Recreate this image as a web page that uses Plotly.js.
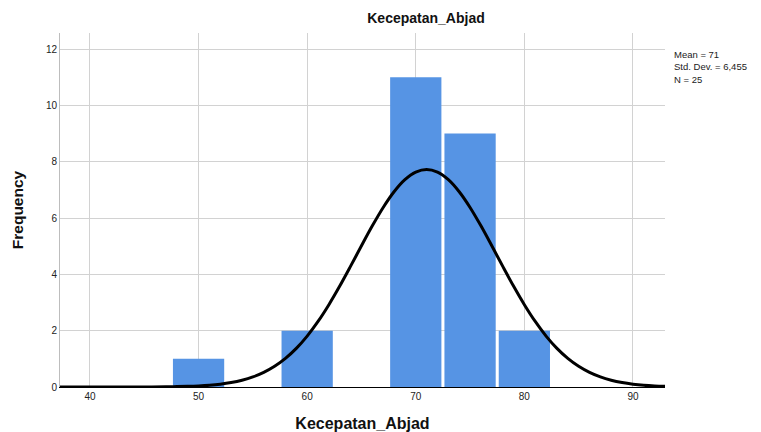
<!DOCTYPE html>
<html><head><meta charset="utf-8">
<script src="https://cdn.plot.ly/plotly-3.0.1.min.js"></script>
<style>html,body{margin:0;padding:0;background:#fff}#c{width:761px;height:432px}</style>
</head><body><div id="c"></div>
<script>
// Histogram bins (centers) and frequencies
const binCenters = [50, 60, 70, 75, 80];
const frequencies = [1, 2, 11, 9, 2];
// Normal curve points (mean 71, sd 6.455, N 25)
const curveX = [37, 40, 43, 45, 47, 48, 49, 50, 51, 52, 53, 54, 55, 56, 57, 58, 59, 60, 61, 62, 63, 64, 65, 66, 67, 68, 69, 70, 71, 72, 73, 74, 75, 76, 77, 78, 79, 80, 81, 82, 83, 84, 85, 86, 87, 88, 89, 90, 91, 92, 93];
const curveY = [0.0000, 0.0001, 0.0006, 0.0023, 0.0077, 0.0135, 0.0232, 0.0389, 0.0636, 0.1015, 0.158, 0.241, 0.358, 0.519, 0.735, 1.017, 1.372, 1.808, 2.327, 2.923, 3.584, 4.291, 5.015, 5.723, 6.376, 6.934, 7.363, 7.632, 7.725, 7.632, 7.363, 6.934, 6.376, 5.723, 5.015, 4.291, 3.584, 2.923, 2.327, 1.808, 1.372, 1.017, 0.735, 0.519, 0.358, 0.241, 0.158, 0.1015, 0.0636, 0.0389, 0.0232];
const xTicks = [40, 50, 60, 70, 80, 90];
const yTicks = [0, 2, 4, 6, 8, 10, 12];
const stats = ["Mean = 71", "Std. Dev. = 6,455", "N = 25"];

const font = "Liberation Sans, Arial, sans-serif";
const data = [
  {type: "bar", x: binCenters, y: frequencies, width: 4.72,
   marker: {color: "#5694e4", line: {width: 0}}, hoverinfo: "skip"},
  {type: "scatter", mode: "lines", x: curveX, y: curveY,
   line: {color: "#000", width: 3, shape: "spline"}, hoverinfo: "skip"}
];
const layout = {
  width: 761, height: 432,
  margin: {l: 60, r: 96, t: 33, b: 45},
  paper_bgcolor: "#fff", plot_bgcolor: "#fff",
  showlegend: false,
  font: {family: font, size: 10, color: "#222"},
  title: {text: "Kecepatan_Abjad", font: {family: font, size: 14, color: "#111", weight: "bold"},
          x: 426/761, xanchor: "center", y: 1 - 18/432, yanchor: "middle"},
  xaxis: {range: [37.24, 92.95], tickvals: xTicks, ticktext: xTicks.map(String),
          showgrid: true, gridcolor: "#d2d2d2", gridwidth: 1, zeroline: false,
          showline: true, linecolor: "#000", linewidth: 1, ticks: "",
          tickfont: {family: font, size: 10, color: "#222"},
          title: {text: "Kecepatan_Abjad", font: {family: font, size: 16, color: "#111", weight: "bold"}, standoff: 16}},
  yaxis: {range: [0, 12.57], tickvals: yTicks, ticktext: yTicks.map(String),
          showgrid: true, gridcolor: "#d2d2d2", gridwidth: 1, zeroline: false,
          showline: true, linecolor: "#bdbdbd", linewidth: 1, ticks: "",
          tickfont: {family: font, size: 10, color: "#222"},
          title: {text: "Frequency", font: {family: font, size: 15.5, color: "#111", weight: "bold"}, standoff: 18}},
  annotations: [{xref: "paper", yref: "paper", x: 1 + 7/605, y: 1 - 14/354, xanchor: "left", yanchor: "top",
                 align: "left", showarrow: false, text: stats.join("<br>"),
                 font: {family: font, size: 9.5, color: "#222"}}]
};
Plotly.newPlot("c", data, layout, {staticPlot: true, displayModeBar: false});
</script></body></html>
